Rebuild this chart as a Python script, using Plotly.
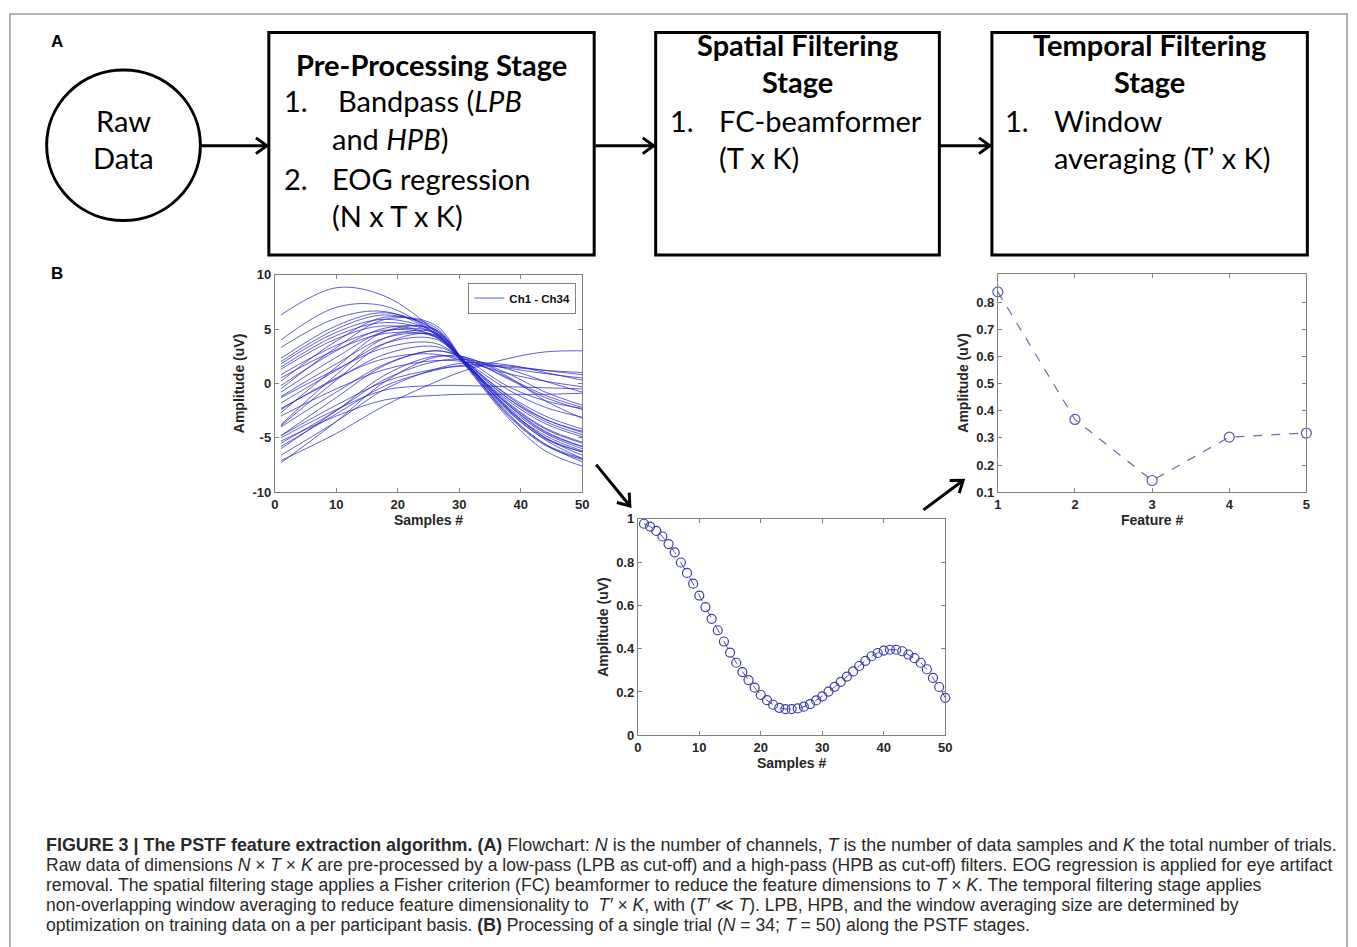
import plotly.graph_objects as go
import numpy as np

# ---------------- data ----------------
sample_knots = [1, 10, 18, 26, 31, 38, 44, 50]
channels = [
    [6.3, 8.8, 8.0, 4.8, 1.6, -3.2, -6.2, -7.6],
    [4.0, 7.0, 7.1, 4.6, 1.7, -2.8, -5.6, -7.2],
    [3.3, 6.0, 6.6, 4.6, 1.8, -2.5, -5.2, -6.9],
    [2.3, 5.3, 6.5, 4.9, 2.0, -2.3, -5.0, -6.6],
    [2.0, 5.0, 6.3, 5.0, 1.9, -2.4, -4.8, -6.2],
    [1.8, 4.7, 5.9, 4.7, 1.8, -2.0, -4.4, -5.8],
    [1.5, 4.4, 5.6, 4.6, 1.9, -1.8, -4.1, -5.4],
    [1.3, 4.1, 5.3, 4.3, 1.7, -1.6, -3.7, -4.9],
    [0.8, 3.5, 4.9, 4.4, 1.9, -1.4, -3.3, -4.5],
    [0.5, 3.1, 4.6, 4.3, 2.0, -1.1, -3.0, -4.2],
    [0.2, 3.9, 6.1, 5.2, 1.8, -2.9, -5.6, -6.9],
    [-0.2, 3.0, 5.1, 4.9, 1.9, -2.2, -4.6, -6.0],
    [-0.5, 3.3, 5.9, 5.4, 1.8, -3.0, -5.7, -7.0],
    [-0.8, 2.4, 4.8, 4.7, 1.9, -1.9, -4.2, -5.5],
    [-1.2, 1.8, 4.2, 4.4, 2.0, -1.4, -3.5, -4.7],
    [-1.3, 1.3, 3.3, 3.7, 2.0, -0.6, -2.2, -3.1],
    [-1.8, 1.2, 3.7, 4.1, 2.0, -1.2, -3.3, -4.4],
    [-2.3, 0.4, 2.7, 3.4, 2.2, -0.3, -1.6, -2.3],
    [-2.7, 1.5, 4.8, 5.0, 1.7, -2.6, -5.1, -6.3],
    [-3.8, 0.8, 4.2, 4.7, 1.8, -2.4, -5.0, -6.3],
    [-3.9, 0.3, 3.7, 4.5, 1.9, -2.0, -4.5, -5.8],
    [-4.0, -0.8, 1.8, 3.0, 2.4, 0.9, -0.8, -2.0],
    [-7.1, -4.6, -2.0, 0.1, 1.2, 2.3, 2.9, 3.0],
    [-5.3, -3.0, -1.5, -1.1, -1.0, -1.0, -1.0, -0.9],
    [-5.0, -2.4, -0.6, -0.2, -0.2, -0.3, -0.4, -0.5],
    [-4.8, -2.0, 0.2, 1.3, 1.6, 1.5, 1.2, 1.0],
    [-5.8, -2.8, -0.2, 1.2, 1.7, 1.6, 1.2, 0.8],
    [-3.0, -0.5, 1.3, 2.1, 2.0, 1.4, 0.9, 0.5],
    [-6.6, -3.5, -0.5, 1.3, 1.9, 1.7, 1.0, 0.3],
    [-2.4, 0.5, 2.3, 2.7, 2.0, 0.9, 0.2, -0.3],
    [-5.5, -2.5, 0.4, 2.0, 2.2, 1.3, 0.2, -0.8],
    [-4.8, -1.3, 1.7, 3.0, 2.3, 0.5, -1.1, -2.2],
    [-7.3, -3.5, 0.2, 2.4, 2.4, 0.6, -1.6, -3.2],
    [-6.0, -2.5, 0.8, 2.5, 2.2, 0.4, -1.3, -2.4],
]

samples = list(range(1, 51))
spatial_out = [
    0.977, 0.964, 0.944, 0.918, 0.883, 0.845, 0.798, 0.750, 0.700, 0.645,
    0.592, 0.538, 0.485, 0.433, 0.382, 0.335, 0.292, 0.255, 0.220, 0.186,
    0.162, 0.141, 0.127, 0.121, 0.121, 0.124, 0.132, 0.144, 0.161, 0.180,
    0.202, 0.224, 0.247, 0.271, 0.295, 0.320, 0.344, 0.365, 0.380, 0.391,
    0.395, 0.395, 0.388, 0.373, 0.356, 0.335, 0.305, 0.265, 0.223, 0.173,
]

features = [1, 2, 3, 4, 5]
feature_vals = [0.838, 0.368, 0.143, 0.303, 0.318]

x_ticks_samples = [0, 10, 20, 30, 40, 50]
y_ticks_left = [-10, -5, 0, 5, 10]
y_ticktext_left = ["-10", "-5", "0", "5", "10"]
y_ticks_mid = [0, 0.2, 0.4, 0.6, 0.8, 1]
y_ticks_right = [0.1, 0.2, 0.3, 0.4, 0.5, 0.6, 0.7, 0.8]

# ---------------- geometry helpers ----------------
W, H = 1357, 947


def X(p):
    return p / W


def Y(p):
    return 1 - p / H


fig = go.Figure()

for i, ch in enumerate(channels):
    fig.add_trace(go.Scatter(
        x=sample_knots, y=ch, mode="lines", name="Ch1 - Ch34",
        line=dict(color="rgba(35,35,205,0.72)", width=1, shape="spline"),
        showlegend=(i == 0), legendgroup="ch", xaxis="x", yaxis="y",
        hoverinfo="skip"))

fig.add_trace(go.Scatter(
    x=samples, y=spatial_out, mode="lines+markers", showlegend=False,
    line=dict(color="#5050b0", width=1, dash="dash"),
    marker=dict(symbol="circle-open", size=9, color="#3c3cb4", line=dict(width=1.2)),
    xaxis="x2", yaxis="y2", cliponaxis=False))

fig.add_trace(go.Scatter(
    x=features, y=feature_vals, mode="lines+markers", showlegend=False,
    line=dict(color="#6a6ab0", width=1.2, dash="dash"),
    marker=dict(symbol="circle-open", size=10, color="#5a5ab8", line=dict(width=1.2)),
    xaxis="x3", yaxis="y3", cliponaxis=False))

tick_font = dict(family="Liberation Sans, Arial", size=13, color="#262626", weight="bold")
title_font = dict(family="Liberation Sans, Arial", size=14, color="#262626", weight="bold")


def ax(domain, rng, tickvals, title, standoff, anchor, ticktext=None):
    d = dict(domain=domain, range=rng, tickvals=tickvals, showline=True,
             linecolor="#808080", linewidth=1, mirror="allticks", ticks="inside",
             ticklen=4, tickcolor="#808080", showgrid=False, zeroline=False,
             tickfont=tick_font, anchor=anchor,
             title=dict(text=title, font=title_font, standoff=standoff))
    if ticktext is not None:
        d["ticktext"] = ticktext
    return d


fig.update_layout(
    width=W, height=H, autosize=False,
    margin=dict(l=0, r=0, t=0, b=0),
    plot_bgcolor="white", paper_bgcolor="white",
    xaxis=ax([X(273), X(583)], [0, 50], x_ticks_samples, "Samples #", 1, "y"),
    yaxis=ax([Y(493), Y(272)], [-10, 10], y_ticks_left, "Amplitude (uV)", 4, "x",
             ticktext=y_ticktext_left),
    xaxis2=ax([X(639), X(949)], [0, 50], x_ticks_samples, "Samples #", 1, "y2"),
    yaxis2=ax([Y(740), Y(520)], [0, 1], y_ticks_mid, "Amplitude (uV)", 4, "x2"),
    xaxis3=ax([X(1002), X(1313)], [1, 5], features, "Feature #", 1, "y3"),
    yaxis3=ax([Y(493), Y(271)], [0.1, 0.905], y_ticks_right, "Amplitude (uV)", 4, "x3"),
    legend=dict(x=X(577), y=Y(280), xanchor="right", yanchor="top",
                bordercolor="#808080", borderwidth=1, bgcolor="white",
                font=dict(family="Liberation Sans, Arial", size=11.5, color="#111", weight="bold"),
                itemwidth=30, tracegroupgap=0),
)

shapes = []
# outer frame
shapes.append(dict(type="rect", xref="paper", yref="paper", x0=X(6), x1=X(1354),
                   y0=Y(7), y1=Y(980), line=dict(color="#9a9a9a", width=1.5)))
# raw data circle
shapes.append(dict(type="circle", xref="paper", yref="paper", x0=X(43), x1=X(198),
                   y0=Y(217), y1=Y(64), line=dict(color="black", width=3)))
# boxes
for (x0, x1) in [(267, 595), (657, 943), (996, 1314)]:
    shapes.append(dict(type="rect", xref="paper", yref="paper", x0=X(x0), x1=X(x1),
                       y0=Y(252), y1=Y(26), line=dict(color="black", width=3)))


def arrow(x0, y0, x1, y1, width=3, L=11, w=8):
    d = np.array([x1 - x0, y1 - y0], dtype=float)
    d /= np.hypot(*d)
    n = np.array([-d[1], d[0]])
    shapes.append(dict(type="line", xref="paper", yref="paper", x0=X(x0), y0=Y(y0),
                       x1=X(x1 - d[0] * 1.5), y1=Y(y1 - d[1] * 1.5),
                       line=dict(color="black", width=width)))
    a = np.array([x1, y1]) - L * d + w * n
    b = np.array([x1, y1]) - L * d - w * n
    path = (f"M {X(a[0])},{Y(a[1])} L {X(x1)},{Y(y1)} L {X(b[0])},{Y(b[1])}")
    shapes.append(dict(type="path", xref="paper", yref="paper", path=path,
                       line=dict(color="black", width=width)))


arrow(198, 141, 265, 141)
arrow(596, 141, 655, 141)
arrow(944, 141, 994, 141)
arrow(597, 465, 631, 507)
arrow(927, 511, 967, 481)
fig.update_layout(shapes=shapes)

FLOW = "Lato"
FS = 29


def txt(x, y, s, size=FS, bold=False, anchor="left", family=FLOW, color="black"):
    fig.add_annotation(x=X(x), y=Y(y), xref="paper", yref="paper", text=s,
                       showarrow=False, xanchor=anchor, yanchor="middle",
                       font=dict(family=family, size=size, color=color,
                                 weight="bold" if bold else "normal"))


txt(45, 35, "A", size=17, bold=True, family="Liberation Sans, Arial")
txt(45, 271, "B", size=17, bold=True, family="Liberation Sans, Arial")

dy = -7
txt(120, 122 + dy, "Raw", anchor="center")
txt(120, 160 + dy, "Data", anchor="center")

txt(431, 65 + dy, "Pre-Processing Stage", bold=True, anchor="center")
txt(280, 102 + dy, "1.")
txt(335, 102 + dy, "Bandpass (<i>LPB</i>")
txt(329, 141 + dy, "and <i>HPB</i>)")
txt(280, 181 + dy, "2.")
txt(329, 181 + dy, "EOG regression")
txt(329, 219 + dy, "(N x T x K)")

txt(800, 45 + dy, "Spatial Filtering", bold=True, anchor="center")
txt(800, 83 + dy, "Stage", bold=True, anchor="center")
txt(669, 122 + dy, "1.")
txt(719, 122 + dy, "FC-beamformer")
txt(719, 160 + dy, "(T x K)")

txt(1155, 45 + dy, "Temporal Filtering", bold=True, anchor="center")
txt(1155, 83 + dy, "Stage", bold=True, anchor="center")
txt(1007, 122 + dy, "1.")
txt(1057, 122 + dy, "Window")
txt(1057, 160 + dy, "averaging (T’ x K)")

CAP = "Liberation Sans, Arial"
caption = [
    "<b>FIGURE 3 | The PSTF feature extraction algorithm. (A)</b> Flowchart: <i>N</i> is the number of channels, <i>T</i> is the number of data samples and <i>K</i> the total number of trials.",
    "Raw data of dimensions <i>N</i> × <i>T</i> × <i>K</i> are pre-processed by a low-pass (LPB as cut-off) and a high-pass (HPB as cut-off) filters. EOG regression is applied for eye artifact",
    "removal. The spatial filtering stage applies a Fisher criterion (FC) beamformer to reduce the feature dimensions to <i>T</i> × <i>K</i>. The temporal filtering stage applies",
    "non-overlapping window averaging to reduce feature dimensionality to  <i>T′</i> × <i>K</i>, with (<i>T′</i> ≪ <i>T</i>). LPB, HPB, and the window averaging size are determined by",
    "optimization on training data on a per participant basis. <b>(B)</b> Processing of a single trial (<i>N</i> = 34; <i>T</i> = 50) along the PSTF stages.",
]
caption_sizes = [17.9, 17.5, 17.6, 17.5, 17.6]
for k, line in enumerate(caption):
    txt(40, 851 + 20.5 * k, line, size=caption_sizes[k], family=CAP, color="#2a2a2a")

fig.write_html("out.html")
